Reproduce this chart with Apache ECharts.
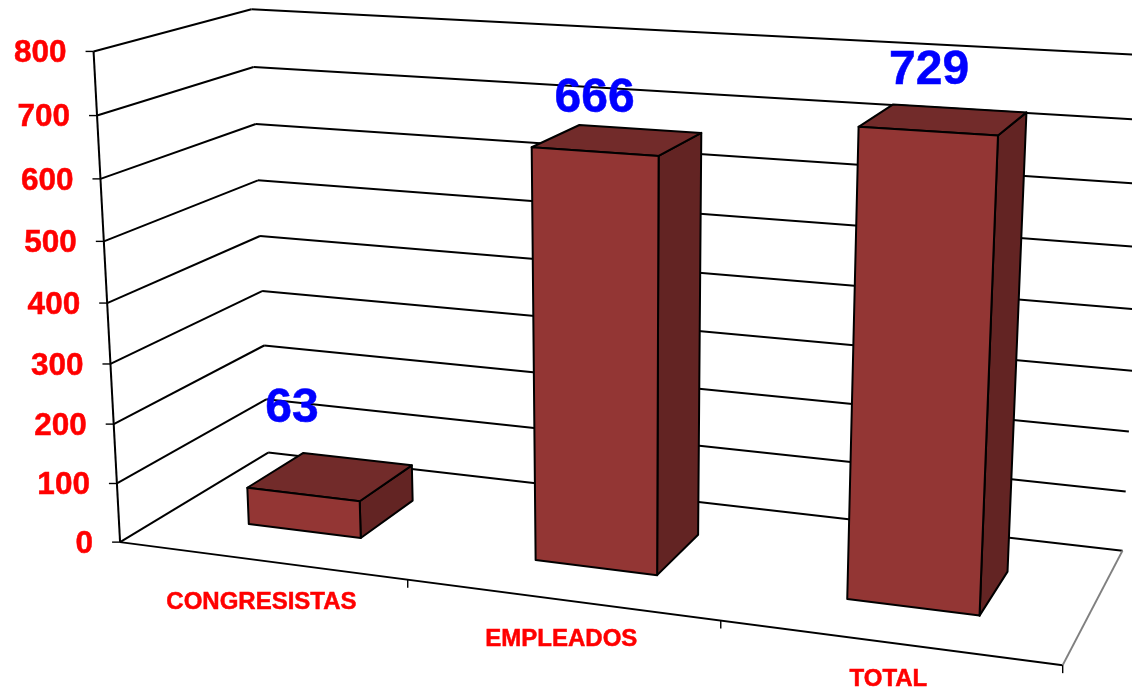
<!DOCTYPE html>
<html><head><meta charset="utf-8">
<style>html,body{margin:0;padding:0;background:#fff}#c{width:1132px;height:691px}</style>
<script src="https://cdn.jsdelivr.net/npm/echarts@6/dist/echarts.min.js"></script>
</head><body><div id="c"></div>
<script>
const categories = ['CONGRESISTAS', 'EMPLEADOS', 'TOTAL'];
const values = [63, 666, 729];
const yTicks = [0, 100, 200, 300, 400, 500, 600, 700, 800];

// Perspective calibration: [u (0-1 along x), v (0-1 up y), w (0-1 depth), screen x, screen y]
const calib = [
  [0,0,0,120,542],[1,0,0,1063,665],[0,0,1,267,453],[1,0,1,1122,551],
  [0,1,0,94,52],[0,1,1,251,9],[1,1,1,1149,55],
  [1/3,0,0,408,579],[2/3,0,0,721,621],
  [0,.125,0,117,483],[0,.25,0,113,424],[0,.75,0,100,179],[0,.875,0,97,116],
  [0,.125,1,266,400],[0,.25,1,265,345],[0,.375,1,263,291],[0,.5,1,261,236],[0,.625,1,259,180],[0,.75,1,255,124],[0,.875,1,253,67]
];
function solve(A,b){const n=b.length;for(let i=0;i<n;i++){let p=i;for(let r=i+1;r<n;r++)if(Math.abs(A[r][i])>Math.abs(A[p][i]))p=r;[A[i],A[p]]=[A[p],A[i]];[b[i],b[p]]=[b[p],b[i]];for(let r=i+1;r<n;r++){const f=A[r][i]/A[i][i];for(let c=i;c<n;c++)A[r][c]-=f*A[i][c];b[r]-=f*b[i];}}const x=new Array(n).fill(0);for(let i=n-1;i>=0;i--){let s=b[i];for(let c=i+1;c<n;c++)s-=A[i][c]*x[c];x[i]=s/A[i][i];}return x;}
function fit(){const N=Array.from({length:11},()=>new Array(11).fill(0)),R=new Array(11).fill(0);
  const add=(row,t)=>{for(let i=0;i<11;i++){for(let j=0;j<11;j++)N[i][j]+=row[i]*row[j];R[i]+=row[i]*t;}};
  calib.forEach(([X,Y,Z,x0,y0])=>{const x=x0/1000,y=y0/1000;
    add([X,Y,Z,1,0,0,0,0,-x*X,-x*Y,-x*Z],x);add([0,0,0,0,X,Y,Z,1,-y*X,-y*Y,-y*Z],y);});
  return solve(N,R);}
const P=fit();
function proj(u,v,w){const d=P[8]*u+P[9]*v+P[10]*w+1;return [1000*(P[0]*u+P[1]*v+P[2]*w+P[3])/d,1000*(P[4]*u+P[5]*v+P[6]*w+P[7])/d];}

const INK='#000',RED='#ff0000',BLUE='#0000ff',FONT='"Liberation Sans",Arial,sans-serif';
const C_FRONT='#933634',C_TOP='#722b2a',C_SIDE='#632423';
const BAR_FRAC=0.40,W0=0.295,W1=0.69;
const labelShift=[[-11,-86],[0,-53],[1.5,-60]];
const line=(a,b,color,width)=>({type:'line',shape:{x1:a[0],y1:a[1],x2:b[0],y2:b[1]},style:{stroke:color||INK,lineWidth:width||2},silent:true});
const poly=(pts,fill)=>({type:'polygon',shape:{points:pts},style:{fill:fill,stroke:INK,lineWidth:2,lineJoin:'round'},silent:true});
const text=(t,x,y,size,fill,align)=>({type:'text',x:x,y:y,style:{text:t,fill:fill,stroke:fill,lineWidth:0.5,font:'bold '+size+'px '+FONT,textAlign:align,textVerticalAlign:'middle'},silent:true});
function uv(params,api,cat,val){const g=params.coordSys,p=api.coord([cat,val]);return [(p[0]-g.x)/g.width,(g.y+g.height-p[1])/g.height];}

function renderWall(params,api){
  const val=api.value(0),[,v]=uv(params,api,0,val);
  const f=proj(0,v,0),b=proj(0,v,1),r=proj(1,v,1);
  return {type:'group',children:[
    line(f,b),line(b,r),line([f[0]-8,f[1]],f,INK,1.4),
    text(String(val),f[0]-27,f[1]+2,31.5,RED,'right')
  ]};
}
function renderFrame(params,api){
  const i=params.dataIndex,g=params.coordSys;
  const bandW=api.size([1,0])[0]/g.width;
  const [uc]=uv(params,api,i,0);
  const uEnd=uc+bandW/2;
  const e=proj(uEnd,0,0);
  const lab=proj(uc,0,0);
  const kids=[line(e,[e[0],e[1]+8],INK,1.4),
    text(categories[i],lab[0]+0.5,lab[1]+43.5-7.2*uc,24,RED,'center')];
  if(i===0){
    kids.unshift(line(proj(0,0,0),proj(0,1,0)),line(proj(0,0,0),proj(1,0,0)),line(proj(1,0,0),proj(1,0,1),'#808080',2));
  }
  return {type:'group',children:kids};
}
function renderBar(params,api){
  const i=params.dataIndex,g=params.coordSys,val=api.value(1);
  const [uc,v]=uv(params,api,i,val);
  const hw=api.size([1,0])[0]/g.width*BAR_FRAC/2,u0=uc-hw,u1=uc+hw;
  const ftl=proj(u0,v,W0),ftr=proj(u1,v,W0),fbl=proj(u0,0,W0),fbr=proj(u1,0,W0);
  const btl=proj(u0,v,W1),btr=proj(u1,v,W1),bbr=proj(u1,0,W1);
  const c=proj(uc,v,W0),s=labelShift[i];
  return {type:'group',children:[
    poly([ftr,btr,bbr,fbr],C_SIDE),poly([ftl,btl,btr,ftr],C_TOP),poly([ftl,ftr,fbr,fbl],C_FRONT),
    text(String(val),c[0]+s[0],c[1]+s[1],48,BLUE,'center')
  ]};
}
const chart=echarts.init(document.getElementById('c'),null,{renderer:'canvas'});
chart.setOption({
  animation:false,backgroundColor:'#fff',
  grid:{left:0,right:0,top:0,bottom:0,containLabel:false},
  xAxis:{type:'category',data:categories,show:false},
  yAxis:{type:'value',min:0,max:800,interval:100,show:false},
  series:[
    {type:'custom',name:'walls',coordinateSystem:'cartesian2d',clip:false,silent:true,renderItem:renderWall,encode:{y:0},data:yTicks.map(t=>[t])},
    {type:'custom',name:'frame',coordinateSystem:'cartesian2d',clip:false,silent:true,renderItem:renderFrame,data:categories.map((c,i)=>[i])},
    {type:'custom',name:'bars',coordinateSystem:'cartesian2d',clip:false,silent:true,renderItem:renderBar,encode:{x:0,y:1},data:values.map((v,i)=>[categories[i],v])}
  ]
});
</script></body></html>
